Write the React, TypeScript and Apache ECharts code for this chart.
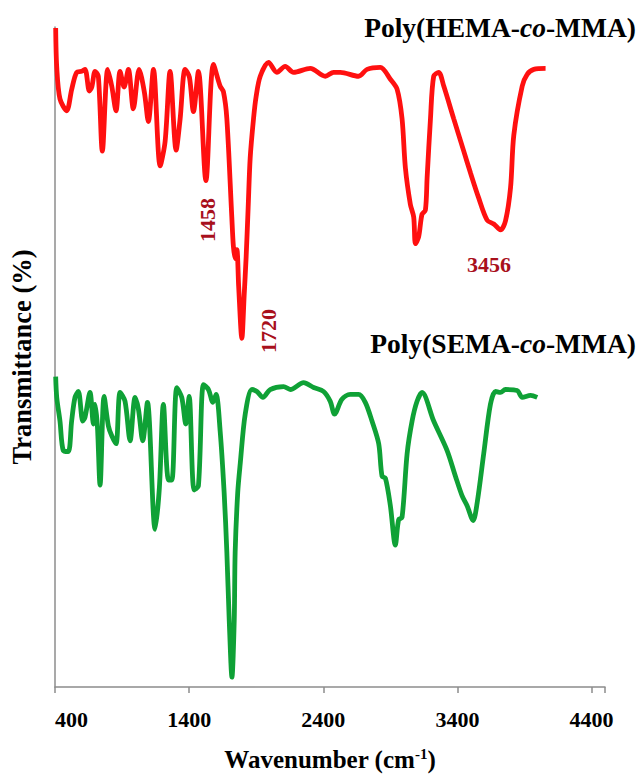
import React, { useEffect, useRef } from "react";
import * as echarts from "echarts";

// Wavenumber (cm-1) and transmittance (arbitrary units)
const hemaWave = [405, 413, 437, 487, 525, 562, 599, 624, 656, 674, 699, 723, 753, 793, 823, 855, 885, 915, 947, 984, 1027, 1066, 1096, 1134, 1184, 1221, 1258, 1303, 1333, 1370, 1402, 1432, 1469, 1525, 1581, 1631, 1656, 1681, 1718, 1730, 1743, 1756, 1769, 1793, 1810, 1825, 1840, 1855, 1880, 1900, 1930, 1992, 2054, 2116, 2178, 2303, 2415, 2477, 2527, 2663, 2726, 2825, 2900, 2950, 2987, 3012, 3049, 3074, 3087, 3111, 3136, 3161, 3174, 3199, 3223, 3260, 3298, 3372, 3447, 3497, 3557, 3621, 3671, 3721, 3758, 3796, 3820, 3883, 3920, 3969, 4057];
const hemaT = [669, 629, 597, 585, 607, 624, 625, 627, 605, 609, 625, 620, 544, 627, 610, 585, 625, 609, 627, 587, 627, 604, 574, 627, 529, 554, 625, 545, 577, 627, 619, 584, 625, 514, 632, 610, 604, 577, 477, 447, 435, 444, 407, 354, 397, 437, 487, 537, 577, 600, 620, 634, 624, 630, 624, 628, 620, 624, 624, 620, 627, 629, 617, 607, 577, 527, 490, 477, 450, 457, 480, 484, 517, 577, 620, 624, 610, 577, 544, 522, 497, 474, 470, 464, 473, 507, 560, 610, 622, 627, 628];

const semaWave = [405, 413, 437, 462, 499, 524, 549, 574, 607, 624, 661, 686, 699, 716, 736, 766, 798, 823, 855, 885, 922, 960, 997, 1022, 1054, 1089, 1146, 1178, 1208, 1246, 1271, 1308, 1345, 1375, 1400, 1437, 1469, 1507, 1544, 1577, 1601, 1631, 1661, 1681, 1699, 1719, 1736, 1743, 1762, 1781, 1818, 1868, 1905, 1950, 2004, 2104, 2154, 2253, 2328, 2402, 2452, 2484, 2539, 2601, 2663, 2713, 2763, 2813, 2838, 2863, 2900, 2937, 2962, 2987, 3025, 3062, 3099, 3136, 3223, 3323, 3385, 3435, 3472, 3517, 3547, 3596, 3646, 3684, 3721, 3758, 3845, 3883, 3945, 3995];
const semaT = [315, 294, 270, 240, 239, 270, 294, 300, 270, 274, 299, 267, 287, 265, 205, 295, 265, 255, 247, 299, 290, 250, 294, 282, 250, 289, 160, 202, 287, 210, 210, 304, 294, 267, 295, 200, 204, 307, 302, 289, 297, 260, 197, 137, 67, 10, 67, 137, 197, 227, 277, 302, 300, 294, 302, 305, 302, 309, 304, 300, 290, 277, 292, 297, 297, 289, 270, 247, 214, 212, 184, 144, 170, 172, 237, 270, 290, 299, 270, 240, 214, 194, 184, 169, 187, 237, 287, 300, 299, 302, 301, 294, 296, 294];

const xTicks = [400, 1400, 2400, 3400, 4400];
const peakLabels = ["1458", "1720", "3456"];
const seriesNames = ["Poly(HEMA-co-MMA)", "Poly(SEMA-co-MMA)"];

const FONT = "'Liberation Serif', 'DejaVu Serif', serif";

export default function App() {
  const ref = useRef<HTMLDivElement>(null);
  useEffect(() => {
    if (!ref.current) return;
    const chart = echarts.init(ref.current, null, { renderer: "svg" });
    const hemaData = hemaWave.map((w, i) => [w, hemaT[i]]);
    const semaData = semaWave.map((w, i) => [w, semaT[i]]);
    const titleRich = {
      a: { fontFamily: FONT, fontWeight: "bold", fontSize: 27.5, fill: "#000" },
      b: { fontFamily: FONT, fontWeight: "bold", fontStyle: "italic", fontSize: 27.5, fill: "#000" },
    };
    const splitName = (s: string) => {
      const [pre, post] = s.split("co");
      return `{a|${pre}}{b|co}{a|${post}}`;
    };
    chart.setOption({
      animation: false,
      backgroundColor: "#fff",
      grid: { left: 55, right: 39, top: 27, bottom: 80 },
      xAxis: {
        type: "value",
        min: 400,
        max: 4500,
        interval: 1000,
        axisLine: { show: true, lineStyle: { color: "#8c8c8c", width: 1.5 } },
        axisTick: { show: true, length: 6, lineStyle: { color: "#8c8c8c", width: 1.5 } },
        splitLine: { show: false },
        axisLabel: {
          margin: 21,
          fontFamily: FONT,
          fontWeight: "bold",
          fontSize: 22,
          color: "#000",
          alignMinLabel: "left",
          formatter: (v: number) => (xTicks.includes(v) ? String(v) : ""),
        },
        name: "Wavenumber (cm{sup|-1})",
        nameLocation: "middle",
        nameGap: 59,
        nameTextStyle: {
          fontFamily: FONT,
          fontWeight: "bold",
          fontSize: 25,
          color: "#000",
          rich: {
            sup: { fontFamily: FONT, fontWeight: "bold", fontSize: 15, color: "#000", verticalAlign: "top", padding: [0, 0, 12, 0] },
          },
        },
      },
      yAxis: {
        type: "value",
        min: 0,
        max: 670,
        axisLine: { show: true, lineStyle: { color: "#8c8c8c", width: 1.5 } },
        axisTick: { show: false },
        axisLabel: { show: false },
        splitLine: { show: false },
      },
      series: [
        {
          name: seriesNames[0],
          type: "line",
          data: hemaData,
          showSymbol: false,
          smooth: 0.3,
          lineStyle: { color: "#ff1010", width: 4.8 },
        },
        {
          name: seriesNames[1],
          type: "line",
          data: semaData,
          showSymbol: false,
          smooth: 0.3,
          lineStyle: { color: "#0fa136", width: 4.8 },
        },
      ],
      graphic: [
        {
          type: "text",
          right: 8,
          top: 13,
          style: { text: splitName(seriesNames[0]), rich: titleRich },
        },
        {
          type: "text",
          right: 8,
          top: 329,
          style: { text: splitName(seriesNames[1]), rich: titleRich },
        },
        {
          type: "text",
          x: 22,
          y: 357,
          rotation: Math.PI / 2,
          style: {
            text: "Transmittance (%)",
            fontFamily: FONT,
            fontWeight: "bold",
            fontSize: 26.5,
            fill: "#000",
            align: "center",
            verticalAlign: "middle",
          },
        },
        {
          type: "text",
          x: 207,
          y: 220,
          rotation: Math.PI / 2,
          style: { text: peakLabels[0], fontFamily: FONT, fontWeight: "bold", fontSize: 22, fill: "#a8101c", align: "center", verticalAlign: "middle" },
        },
        {
          type: "text",
          x: 268,
          y: 331,
          rotation: Math.PI / 2,
          style: { text: peakLabels[1], fontFamily: FONT, fontWeight: "bold", fontSize: 22, fill: "#a8101c", align: "center", verticalAlign: "middle" },
        },
        {
          type: "text",
          x: 489,
          y: 264,
          style: { text: peakLabels[2], fontFamily: FONT, fontWeight: "bold", fontSize: 22, fill: "#a8101c", align: "center", verticalAlign: "middle" },
        },
      ],
    });
    return () => chart.dispose();
  }, []);
  return <div ref={ref} style={{ width: 644, height: 777, position: "absolute", left: 0, top: 0 }} />;
}
